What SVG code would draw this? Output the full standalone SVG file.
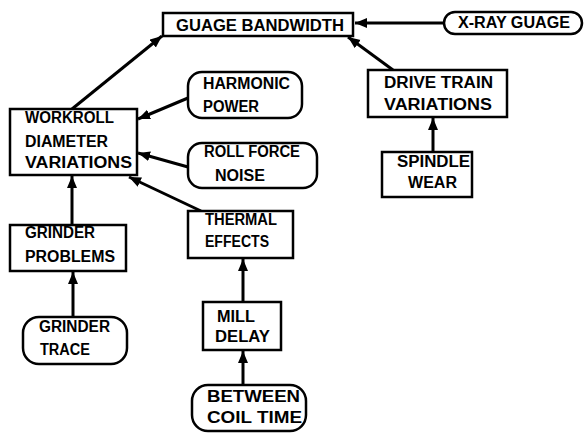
<svg xmlns="http://www.w3.org/2000/svg" width="585" height="433" viewBox="0 0 585 433">
<style>
.box{fill:#fff;stroke:#000;stroke-width:2.5}
.t{font-family:"Liberation Sans",Arial,sans-serif;font-weight:bold;font-size:16px;fill:#000}
.c{stroke:#000;stroke-width:3;fill:none;marker-end:url(#ah)}
</style>
<defs>
<marker id="ah" markerUnits="userSpaceOnUse" markerWidth="14" markerHeight="12" refX="12" refY="5" orient="auto">
<path d="M0,0 L12,5 L0,10 z" fill="#000"/>
</marker>
</defs>
<rect width="585" height="433" fill="#fff"/>
<g id="connectors">
<line class="c" x1="444" y1="23" x2="355" y2="23"/>
<line class="c" x1="393" y1="70" x2="348" y2="37"/>
<line class="c" x1="433" y1="152" x2="433" y2="118"/>
<line class="c" x1="72" y1="109" x2="162" y2="36"/>
<line class="c" x1="188" y1="98" x2="138" y2="119"/>
<line class="c" x1="188" y1="167" x2="138" y2="153"/>
<line class="c" x1="201" y1="211" x2="129" y2="177"/>
<line class="c" x1="72" y1="225" x2="72" y2="176"/>
<line class="c" x1="73" y1="317" x2="73" y2="272"/>
<line class="c" x1="243" y1="302" x2="243" y2="259"/>
<line class="c" x1="243" y1="385" x2="243" y2="351"/>
</g>
<g id="guage-bandwidth">
<rect class="box" x="163" y="13" width="190" height="23"/>
<text class="t" x="176" y="31" textLength="168" lengthAdjust="spacingAndGlyphs">GUAGE BANDWIDTH</text>
</g>
<g id="x-ray-guage">
<rect class="box" x="444" y="12" width="138" height="22" rx="11"/>
<text class="t" x="458" y="28" textLength="112" lengthAdjust="spacingAndGlyphs">X-RAY GUAGE</text>
</g>
<g id="drive-train">
<rect class="box" x="368" y="70" width="139" height="47"/>
<text class="t" x="384" y="88" textLength="109" lengthAdjust="spacingAndGlyphs">DRIVE TRAIN</text>
<text class="t" x="384" y="110" textLength="108" lengthAdjust="spacingAndGlyphs">VARIATIONS</text>
</g>
<g id="spindle-wear">
<rect class="box" x="382" y="152" width="90" height="45"/>
<text class="t" x="397" y="167" textLength="73" lengthAdjust="spacingAndGlyphs">SPINDLE</text>
<text class="t" x="408" y="188" textLength="49" lengthAdjust="spacingAndGlyphs">WEAR</text>
</g>
<g id="workroll">
<rect class="box" x="10" y="109" width="127" height="66"/>
<text class="t" x="25" y="123" textLength="89" lengthAdjust="spacingAndGlyphs">WORKROLL</text>
<text class="t" x="25" y="147" textLength="83" lengthAdjust="spacingAndGlyphs">DIAMETER</text>
<text class="t" x="25" y="168" textLength="107" lengthAdjust="spacingAndGlyphs">VARIATIONS</text>
</g>
<g id="harmonic-power">
<rect class="box" x="188" y="72" width="114" height="46" rx="14"/>
<text class="t" x="203" y="89" textLength="87" lengthAdjust="spacingAndGlyphs">HARMONIC</text>
<text class="t" x="203" y="112" textLength="56" lengthAdjust="spacingAndGlyphs">POWER</text>
</g>
<g id="roll-force-noise">
<rect class="box" x="188" y="143" width="129" height="45" rx="14"/>
<text class="t" x="204" y="157" textLength="96" lengthAdjust="spacingAndGlyphs">ROLL FORCE</text>
<text class="t" x="215" y="181" textLength="50" lengthAdjust="spacingAndGlyphs">NOISE</text>
</g>
<g id="thermal-effects">
<rect class="box" x="188" y="211" width="105" height="47"/>
<text class="t" x="205" y="225" textLength="72" lengthAdjust="spacingAndGlyphs">THERMAL</text>
<text class="t" x="205" y="247" textLength="64" lengthAdjust="spacingAndGlyphs">EFFECTS</text>
</g>
<g id="grinder-problems">
<rect class="box" x="10" y="225" width="116" height="46"/>
<text class="t" x="25" y="238" textLength="70" lengthAdjust="spacingAndGlyphs">GRINDER</text>
<text class="t" x="25" y="262" textLength="90" lengthAdjust="spacingAndGlyphs">PROBLEMS</text>
</g>
<g id="grinder-trace">
<rect class="box" x="23" y="317" width="104" height="47" rx="16"/>
<text class="t" x="39" y="332" textLength="71" lengthAdjust="spacingAndGlyphs">GRINDER</text>
<text class="t" x="40" y="355" textLength="50" lengthAdjust="spacingAndGlyphs">TRACE</text>
</g>
<g id="mill-delay">
<rect class="box" x="203" y="302" width="78" height="48"/>
<text class="t" x="217" y="322" textLength="38" lengthAdjust="spacingAndGlyphs">MILL</text>
<text class="t" x="215" y="342" textLength="55" lengthAdjust="spacingAndGlyphs">DELAY</text>
</g>
<g id="between-coil-time">
<rect class="box" x="192" y="385" width="114" height="46" rx="16"/>
<text class="t" x="207" y="402" textLength="93" lengthAdjust="spacingAndGlyphs">BETWEEN</text>
<text class="t" x="207" y="423" textLength="95" lengthAdjust="spacingAndGlyphs">COIL TIME</text>
</g>
</svg>
